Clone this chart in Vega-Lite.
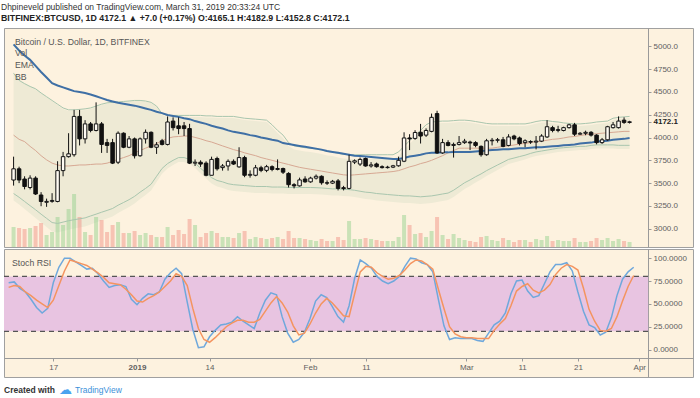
{
"$schema": "https://vega.github.io/schema/vega-lite/v6.json",
"background": "#ffffff",
"padding": {"left": 1, "top": 2, "right": 7, "bottom": 2},
"title": {
  "text": "Dhpineveld published on TradingView.com, March 31, 2019 20:33:24 UTC",
  "subtitle": "BITFINEX:BTCUSD, 1D  4172.1 ▲ +7.0 (+0.17%) O:4165.1 H:4182.9 L:4152.8 C:4172.1",
  "anchor": "start", "frame": "group", "dx": -3, "offset": 5,
  "font": "Liberation Sans", "fontSize": 8.5, "fontWeight": "normal", "color": "#333333",
  "subtitleFont": "Liberation Sans", "subtitleFontSize": 8.8, "subtitleFontWeight": "bold", "subtitleColor": "#222222", "subtitlePadding": 2.5
},
"spacing": 0,
"config": {
  "view": {"stroke": "#a0a0a0", "strokeWidth": 1, "fill": "#FDF2DF"},
  "axis": {"labelFont": "Liberation Sans", "labelFontSize": 8, "labelColor": "#606060", "domainColor": "#9a9a9a", "tickColor": "#9a9a9a", "tickSize": 3, "grid": false, "labelPadding": 2, "labelOverlap": false},
  "text": {"font": "Liberation Sans"}
},
"datasets": {"btc": [
{"d":"2018-12-09","o":3534,"h":3790,"l":3473,"c":3657,"v":20000,"ema":5020,"bu":4703,"bm":4026,"bl":3386,"k":73,"sd":68},
{"d":"2018-12-10","o":3657,"h":3680,"l":3500,"c":3534,"v":19000,"ema":4954,"bu":4626,"bm":3980,"bl":3345,"k":74,"sd":70},
{"d":"2018-12-11","o":3545,"h":3575,"l":3432,"c":3463,"v":18000,"ema":4898,"bu":4590,"bm":3955,"bl":3299,"k":67,"sd":69},
{"d":"2018-12-12","o":3452,"h":3586,"l":3432,"c":3555,"v":19000,"ema":4851,"bu":4559,"bm":3903,"bl":3253,"k":63,"sd":63},
{"d":"2018-12-13","o":3555,"h":3575,"l":3370,"c":3381,"v":21000,"ema":4785,"bu":4534,"bm":3857,"bl":3208,"k":55,"sd":59},
{"d":"2018-12-14","o":3370,"h":3401,"l":3247,"c":3299,"v":24000,"ema":4718,"bu":4488,"bm":3801,"bl":3160,"k":46,"sd":54},
{"d":"2018-12-15","o":3290,"h":3330,"l":3240,"c":3300,"v":12000,"ema":4657,"bu":4447,"bm":3755,"bl":3114,"k":40,"sd":50},
{"d":"2018-12-16","o":3300,"h":3390,"l":3285,"c":3310,"v":15000,"ema":4595,"bu":4406,"bm":3719,"bl":3068,"k":45,"sd":46},
{"d":"2018-12-17","o":3299,"h":3740,"l":3290,"c":3637,"v":30000,"ema":4570,"bu":4365,"bm":3699,"bl":3058,"k":73,"sd":54},
{"d":"2018-12-18","o":3637,"h":3842,"l":3575,"c":3790,"v":22000,"ema":4549,"bu":4324,"bm":3688,"bl":3073,"k":90,"sd":70},
{"d":"2018-12-19","o":3790,"h":4047,"l":3780,"c":3821,"v":38000,"ema":4529,"bu":4303,"bm":3688,"bl":3088,"k":100,"sd":86},
{"d":"2018-12-20","o":3811,"h":4303,"l":3790,"c":4231,"v":53000,"ema":4508,"bu":4303,"bm":3693,"bl":3099,"k":100,"sd":98},
{"d":"2018-12-21","o":4231,"h":4303,"l":3913,"c":3985,"v":30000,"ema":4498,"bu":4308,"bm":3699,"bl":3109,"k":96,"sd":96},
{"d":"2018-12-22","o":3985,"h":4190,"l":3934,"c":4149,"v":15000,"ema":4488,"bu":4314,"bm":3699,"bl":3119,"k":92,"sd":94},
{"d":"2018-12-23","o":4149,"h":4170,"l":4057,"c":4077,"v":12000,"ema":4472,"bu":4324,"bm":3704,"bl":3140,"k":88,"sd":92},
{"d":"2018-12-24","o":4077,"h":4385,"l":4067,"c":4149,"v":30000,"ema":4452,"bu":4344,"bm":3709,"bl":3160,"k":89,"sd":88},
{"d":"2018-12-25","o":4149,"h":4170,"l":3831,"c":3924,"v":27000,"ema":4431,"bu":4365,"bm":3709,"bl":3181,"k":83,"sd":84},
{"d":"2018-12-26","o":3944,"h":3985,"l":3831,"c":3913,"v":15000,"ema":4411,"bu":4380,"bm":3719,"bl":3201,"k":75,"sd":79},
{"d":"2018-12-27","o":3944,"h":3985,"l":3709,"c":3719,"v":22000,"ema":4395,"bu":4385,"bm":3739,"bl":3222,"k":68,"sd":73},
{"d":"2018-12-28","o":3729,"h":4067,"l":3709,"c":4047,"v":25000,"ema":4380,"bu":4390,"bm":3760,"bl":3258,"k":70,"sd":72},
{"d":"2018-12-29","o":4047,"h":4057,"l":3883,"c":3893,"v":14000,"ema":4370,"bu":4395,"bm":3780,"bl":3288,"k":71,"sd":71},
{"d":"2018-12-30","o":3893,"h":4016,"l":3883,"c":3985,"v":14000,"ema":4359,"bu":4400,"bm":3801,"bl":3319,"k":69,"sd":66},
{"d":"2018-12-31","o":3985,"h":4000,"l":3770,"c":3800,"v":16000,"ema":4349,"bu":4406,"bm":3832,"bl":3355,"k":55,"sd":60},
{"d":"2019-01-01","o":3800,"h":4000,"l":3790,"c":3985,"v":12000,"ema":4334,"bu":4406,"bm":3857,"bl":3401,"k":49,"sd":53},
{"d":"2019-01-02","o":3985,"h":4088,"l":3934,"c":4057,"v":14000,"ema":4318,"bu":4400,"bm":3883,"bl":3442,"k":56,"sd":52},
{"d":"2019-01-03","o":4057,"h":4067,"l":3883,"c":3893,"v":12000,"ema":4303,"bu":4385,"bm":3908,"bl":3488,"k":61,"sd":56},
{"d":"2019-01-04","o":3893,"h":3950,"l":3820,"c":3920,"v":10000,"ema":4283,"bu":4344,"bm":3934,"bl":3575,"k":60,"sd":59},
{"d":"2019-01-05","o":3964,"h":3985,"l":3913,"c":3924,"v":10000,"ema":4267,"bu":4262,"bm":3965,"bl":3661,"k":63,"sd":63},
{"d":"2019-01-06","o":3924,"h":4231,"l":3913,"c":4170,"v":20000,"ema":4247,"bu":4242,"bm":3990,"bl":3714,"k":77,"sd":69},
{"d":"2019-01-07","o":4180,"h":4221,"l":4077,"c":4108,"v":12000,"ema":4236,"bu":4242,"bm":4006,"bl":3750,"k":84,"sd":75},
{"d":"2019-01-08","o":4128,"h":4221,"l":4036,"c":4098,"v":17000,"ema":4226,"bu":4242,"bm":4011,"bl":3780,"k":89,"sd":83},
{"d":"2019-01-09","o":4128,"h":4170,"l":4016,"c":4098,"v":13000,"ema":4211,"bu":4242,"bm":4016,"bl":3780,"k":83,"sd":80},
{"d":"2019-01-10","o":4098,"h":4150,"l":3709,"c":3719,"v":28000,"ema":4201,"bu":4242,"bm":4016,"bl":3760,"k":52,"sd":70},
{"d":"2019-01-11","o":3719,"h":3760,"l":3688,"c":3729,"v":22000,"ema":4180,"bu":4242,"bm":4001,"bl":3719,"k":22,"sd":45},
{"d":"2019-01-12","o":3729,"h":3750,"l":3678,"c":3709,"v":10000,"ema":4165,"bu":4242,"bm":3985,"bl":3663,"k":2,"sd":23},
{"d":"2019-01-13","o":3719,"h":3739,"l":3575,"c":3586,"v":14000,"ema":4149,"bu":4237,"bm":3965,"bl":3611,"k":3,"sd":11},
{"d":"2019-01-14","o":3586,"h":3790,"l":3586,"c":3760,"v":16000,"ema":4129,"bu":4237,"bm":3950,"bl":3560,"k":14,"sd":8},
{"d":"2019-01-15","o":3770,"h":3790,"l":3637,"c":3657,"v":14000,"ema":4113,"bu":4231,"bm":3929,"bl":3529,"k":21,"sd":13},
{"d":"2019-01-16","o":3670,"h":3709,"l":3637,"c":3688,"v":10000,"ema":4098,"bu":4231,"bm":3908,"bl":3514,"k":27,"sd":19},
{"d":"2019-01-17","o":3688,"h":3760,"l":3637,"c":3739,"v":10000,"ema":4078,"bu":4231,"bm":3888,"bl":3493,"k":28,"sd":25},
{"d":"2019-01-18","o":3739,"h":3760,"l":3700,"c":3709,"v":9000,"ema":4062,"bu":4231,"bm":3867,"bl":3483,"k":30,"sd":29},
{"d":"2019-01-19","o":3678,"h":3893,"l":3668,"c":3780,"v":14000,"ema":4052,"bu":4221,"bm":3852,"bl":3478,"k":36,"sd":32},
{"d":"2019-01-20","o":3780,"h":3800,"l":3565,"c":3586,"v":16000,"ema":4042,"bu":4211,"bm":3832,"bl":3473,"k":31,"sd":32},
{"d":"2019-01-21","o":3586,"h":3640,"l":3560,"c":3596,"v":8000,"ema":4026,"bu":4206,"bm":3816,"bl":3468,"k":27,"sd":30},
{"d":"2019-01-22","o":3586,"h":3699,"l":3575,"c":3668,"v":10000,"ema":4016,"bu":4201,"bm":3801,"bl":3463,"k":23,"sd":30},
{"d":"2019-01-23","o":3668,"h":3690,"l":3620,"c":3640,"v":9000,"ema":4001,"bu":4196,"bm":3780,"bl":3463,"k":40,"sd":33},
{"d":"2019-01-24","o":3640,"h":3700,"l":3620,"c":3680,"v":8000,"ema":3990,"bu":4190,"bm":3765,"bl":3463,"k":54,"sd":42},
{"d":"2019-01-25","o":3680,"h":3695,"l":3630,"c":3650,"v":9000,"ema":3975,"bu":4139,"bm":3750,"bl":3457,"k":62,"sd":51},
{"d":"2019-01-26","o":3650,"h":3760,"l":3640,"c":3660,"v":10000,"ema":3965,"bu":4078,"bm":3734,"bl":3457,"k":60,"sd":58},
{"d":"2019-01-27","o":3660,"h":3670,"l":3600,"c":3620,"v":8000,"ema":3939,"bu":4026,"bm":3719,"bl":3457,"k":36,"sd":51},
{"d":"2019-01-28","o":3606,"h":3620,"l":3452,"c":3483,"v":16000,"ema":3929,"bu":3944,"bm":3704,"bl":3452,"k":18,"sd":41},
{"d":"2019-01-29","o":3483,"h":3500,"l":3442,"c":3470,"v":9000,"ema":3919,"bu":3908,"bm":3688,"bl":3452,"k":8,"sd":26},
{"d":"2019-01-30","o":3470,"h":3560,"l":3462,"c":3535,"v":9000,"ema":3908,"bu":3898,"bm":3673,"bl":3452,"k":11,"sd":16},
{"d":"2019-01-31","o":3545,"h":3575,"l":3504,"c":3514,"v":8000,"ema":3898,"bu":3888,"bm":3662,"bl":3452,"k":19,"sd":18},
{"d":"2019-02-01","o":3514,"h":3570,"l":3504,"c":3555,"v":7000,"ema":3888,"bu":3883,"bm":3652,"bl":3452,"k":34,"sd":28},
{"d":"2019-02-02","o":3555,"h":3595,"l":3540,"c":3575,"v":6000,"ema":3878,"bu":3872,"bm":3642,"bl":3450,"k":53,"sd":40},
{"d":"2019-02-03","o":3575,"h":3585,"l":3483,"c":3504,"v":8000,"ema":3867,"bu":3862,"bm":3632,"bl":3447,"k":60,"sd":50},
{"d":"2019-02-04","o":3504,"h":3530,"l":3480,"c":3500,"v":6000,"ema":3852,"bu":3847,"bm":3621,"bl":3442,"k":57,"sd":56},
{"d":"2019-02-05","o":3500,"h":3535,"l":3490,"c":3520,"v":6000,"ema":3842,"bu":3842,"bm":3611,"bl":3437,"k":47,"sd":51},
{"d":"2019-02-06","o":3524,"h":3545,"l":3420,"c":3442,"v":10000,"ema":3832,"bu":3826,"bm":3601,"bl":3437,"k":36,"sd":44},
{"d":"2019-02-07","o":3450,"h":3470,"l":3420,"c":3440,"v":7000,"ema":3821,"bu":3816,"bm":3591,"bl":3432,"k":30,"sd":37},
{"d":"2019-02-08","o":3442,"h":3811,"l":3432,"c":3739,"v":26000,"ema":3811,"bu":3811,"bm":3586,"bl":3429,"k":48,"sd":36},
{"d":"2019-02-09","o":3730,"h":3760,"l":3709,"c":3745,"v":8000,"ema":3801,"bu":3811,"bm":3591,"bl":3422,"k":78,"sd":61},
{"d":"2019-02-10","o":3709,"h":3780,"l":3688,"c":3760,"v":8000,"ema":3796,"bu":3811,"bm":3596,"bl":3411,"k":98,"sd":85},
{"d":"2019-02-11","o":3770,"h":3780,"l":3680,"c":3688,"v":9000,"ema":3791,"bu":3811,"bm":3601,"bl":3401,"k":94,"sd":91},
{"d":"2019-02-12","o":3688,"h":3730,"l":3670,"c":3700,"v":8000,"ema":3786,"bu":3811,"bm":3606,"bl":3396,"k":89,"sd":90},
{"d":"2019-02-13","o":3710,"h":3725,"l":3670,"c":3680,"v":7000,"ema":3780,"bu":3811,"bm":3611,"bl":3386,"k":80,"sd":84},
{"d":"2019-02-14","o":3680,"h":3695,"l":3660,"c":3670,"v":6000,"ema":3775,"bu":3811,"bm":3616,"bl":3381,"k":75,"sd":80},
{"d":"2019-02-15","o":3670,"h":3690,"l":3660,"c":3675,"v":6000,"ema":3770,"bu":3811,"bm":3621,"bl":3375,"k":72,"sd":77},
{"d":"2019-02-16","o":3675,"h":3700,"l":3665,"c":3690,"v":6000,"ema":3765,"bu":3811,"bm":3627,"bl":3370,"k":75,"sd":78},
{"d":"2019-02-17","o":3690,"h":3790,"l":3680,"c":3750,"v":10000,"ema":3765,"bu":3842,"bm":3637,"bl":3365,"k":80,"sd":81},
{"d":"2019-02-18","o":3740,"h":4057,"l":3730,"c":3995,"v":32000,"ema":3775,"bu":3903,"bm":3657,"bl":3360,"k":91,"sd":87},
{"d":"2019-02-19","o":3995,"h":4036,"l":3862,"c":3985,"v":22000,"ema":3791,"bu":3965,"bm":3678,"bl":3360,"k":100,"sd":94},
{"d":"2019-02-20","o":3990,"h":4080,"l":3975,"c":4055,"v":13000,"ema":3801,"bu":4021,"bm":3693,"bl":3355,"k":99,"sd":98},
{"d":"2019-02-21","o":4057,"h":4149,"l":3934,"c":4016,"v":14000,"ema":3811,"bu":4078,"bm":3714,"bl":3350,"k":95,"sd":97},
{"d":"2019-02-22","o":4026,"h":4100,"l":4006,"c":4077,"v":10000,"ema":3826,"bu":4139,"bm":3729,"bl":3355,"k":93,"sd":93},
{"d":"2019-02-23","o":4067,"h":4262,"l":4057,"c":4221,"v":16000,"ema":3832,"bu":4170,"bm":3750,"bl":3360,"k":85,"sd":88},
{"d":"2019-02-24","o":4262,"h":4293,"l":3821,"c":3831,"v":30000,"ema":3832,"bu":4175,"bm":3775,"bl":3370,"k":55,"sd":66},
{"d":"2019-02-25","o":3831,"h":3985,"l":3821,"c":3944,"v":12000,"ema":3837,"bu":4180,"bm":3801,"bl":3381,"k":26,"sd":45},
{"d":"2019-02-26","o":3944,"h":3970,"l":3903,"c":3913,"v":8000,"ema":3837,"bu":4180,"bm":3832,"bl":3391,"k":11,"sd":25},
{"d":"2019-02-27","o":3913,"h":3944,"l":3780,"c":3924,"v":13000,"ema":3842,"bu":4185,"bm":3857,"bl":3422,"k":13,"sd":17},
{"d":"2019-02-28","o":3924,"h":4016,"l":3913,"c":3944,"v":9000,"ema":3842,"bu":4190,"bm":3883,"bl":3463,"k":12,"sd":14},
{"d":"2019-03-01","o":3944,"h":3985,"l":3930,"c":3960,"v":7000,"ema":3842,"bu":4190,"bm":3883,"bl":3504,"k":12,"sd":13},
{"d":"2019-03-02","o":3950,"h":3965,"l":3862,"c":3940,"v":6000,"ema":3842,"bu":4185,"bm":3883,"bl":3535,"k":12,"sd":13},
{"d":"2019-03-03","o":3944,"h":3960,"l":3893,"c":3913,"v":5000,"ema":3847,"bu":4175,"bm":3883,"bl":3570,"k":10,"sd":12},
{"d":"2019-03-04","o":3903,"h":3913,"l":3790,"c":3811,"v":10000,"ema":3852,"bu":4165,"bm":3883,"bl":3601,"k":9,"sd":12},
{"d":"2019-03-05","o":3811,"h":3985,"l":3800,"c":3964,"v":11000,"ema":3857,"bu":4154,"bm":3883,"bl":3637,"k":18,"sd":12},
{"d":"2019-03-06","o":3964,"h":3995,"l":3913,"c":3970,"v":7000,"ema":3862,"bu":4149,"bm":3883,"bl":3668,"k":27,"sd":21},
{"d":"2019-03-07","o":3970,"h":3995,"l":3944,"c":3975,"v":6000,"ema":3867,"bu":4149,"bm":3893,"bl":3699,"k":31,"sd":28},
{"d":"2019-03-08","o":3975,"h":4006,"l":3893,"c":3903,"v":9000,"ema":3872,"bu":4149,"bm":3903,"bl":3729,"k":40,"sd":34},
{"d":"2019-03-09","o":3913,"h":4036,"l":3903,"c":4006,"v":7000,"ema":3872,"bu":4149,"bm":3908,"bl":3760,"k":61,"sd":48},
{"d":"2019-03-10","o":4016,"h":4030,"l":3970,"c":3985,"v":5000,"ema":3878,"bu":4149,"bm":3918,"bl":3775,"k":75,"sd":64},
{"d":"2019-03-11","o":3995,"h":4010,"l":3913,"c":3934,"v":7000,"ema":3883,"bu":4149,"bm":3929,"bl":3791,"k":76,"sd":69},
{"d":"2019-03-12","o":3944,"h":3980,"l":3893,"c":3964,"v":7000,"ema":3883,"bu":4149,"bm":3934,"bl":3806,"k":64,"sd":72},
{"d":"2019-03-13","o":3955,"h":3970,"l":3930,"c":3950,"v":5000,"ema":3888,"bu":4160,"bm":3944,"bl":3826,"k":57,"sd":65},
{"d":"2019-03-14","o":3950,"h":4016,"l":3870,"c":3960,"v":8000,"ema":3893,"bu":4175,"bm":3955,"bl":3842,"k":59,"sd":62},
{"d":"2019-03-15","o":3960,"h":4036,"l":3950,"c":4016,"v":7000,"ema":3893,"bu":4185,"bm":3960,"bl":3852,"k":72,"sd":65},
{"d":"2019-03-16","o":4006,"h":4190,"l":3995,"c":4118,"v":11000,"ema":3898,"bu":4185,"bm":3970,"bl":3862,"k":85,"sd":71},
{"d":"2019-03-17","o":4108,"h":4128,"l":4057,"c":4077,"v":6000,"ema":3903,"bu":4175,"bm":3980,"bl":3872,"k":93,"sd":82},
{"d":"2019-03-18","o":4077,"h":4128,"l":4057,"c":4087,"v":7000,"ema":3908,"bu":4170,"bm":3985,"bl":3883,"k":93,"sd":89},
{"d":"2019-03-19","o":4077,"h":4118,"l":4067,"c":4108,"v":6000,"ema":3914,"bu":4160,"bm":3995,"bl":3888,"k":95,"sd":93},
{"d":"2019-03-20","o":4108,"h":4150,"l":4098,"c":4139,"v":6000,"ema":3919,"bu":4154,"bm":4006,"bl":3893,"k":86,"sd":91},
{"d":"2019-03-21","o":4139,"h":4160,"l":4016,"c":4036,"v":9000,"ema":3924,"bu":4149,"bm":4011,"bl":3898,"k":63,"sd":87},
{"d":"2019-03-22","o":4036,"h":4060,"l":4030,"c":4046,"v":5000,"ema":3934,"bu":4149,"bm":4021,"bl":3903,"k":42,"sd":67},
{"d":"2019-03-23","o":4046,"h":4075,"l":4025,"c":4057,"v":5000,"ema":3939,"bu":4154,"bm":4031,"bl":3903,"k":27,"sd":44},
{"d":"2019-03-24","o":4057,"h":4070,"l":4010,"c":4026,"v":6000,"ema":3944,"bu":4160,"bm":4036,"bl":3914,"k":24,"sd":31},
{"d":"2019-03-25","o":4026,"h":4036,"l":3925,"c":3944,"v":9000,"ema":3955,"bu":4170,"bm":4042,"bl":3919,"k":16,"sd":21},
{"d":"2019-03-26","o":3944,"h":3995,"l":3930,"c":3975,"v":7000,"ema":3960,"bu":4175,"bm":4047,"bl":3919,"k":19,"sd":20},
{"d":"2019-03-27","o":3975,"h":4128,"l":3965,"c":4118,"v":9000,"ema":3965,"bu":4180,"bm":4052,"bl":3919,"k":35,"sd":23},
{"d":"2019-03-28","o":4108,"h":4170,"l":4098,"c":4139,"v":6000,"ema":3975,"bu":4211,"bm":4057,"bl":3919,"k":59,"sd":36},
{"d":"2019-03-29","o":4108,"h":4231,"l":4098,"c":4180,"v":8000,"ema":3980,"bu":4221,"bm":4062,"bl":3914,"k":77,"sd":53},
{"d":"2019-03-30","o":4190,"h":4221,"l":4149,"c":4165,"v":6000,"ema":3985,"bu":4226,"bm":4067,"bl":3914,"k":85,"sd":69},
{"d":"2019-03-31","o":4165.1,"h":4182.9,"l":4152.8,"c":4172.1,"v":5000,"ema":3995,"bu":4231,"bm":4067,"bl":3914,"k":90,"sd":81}
]},
"vconcat": [
{
  "width": 689, "height": 219,
  "data": {"name": "btc"},
  "resolve": {"scale": {"y": "independent"}, "axis": {"y": "independent"}},
  "layer": [
    {
      "mark": {"type": "area", "color": "#EEEAD5", "opacity": 1},
      "encoding": {
        "x": {"field": "d", "type": "temporal", "scale": {"type": "utc", "domain": [{"year":2018,"month":12,"date":8,"hours":4,"utc":true},{"year":2019,"month":4,"date":10,"hours":15,"utc":true}]}, "axis": null},
        "y": {"field": "bu", "type": "quantitative", "scale": {"domain": [2910, 5154]}, "axis": null},
        "y2": {"field": "bl"}
      }
    },
    {
      "mark": {"type": "bar", "size": 4, "opacity": 0.45},
      "encoding": {
        "x": {"field": "d", "type": "temporal", "axis": null},
        "y": {"field": "v", "type": "quantitative", "scale": {"domain": [0, 219000]}, "axis": null},
        "color": {"condition": {"test": "datum.c >= datum.o", "value": "#8ccf88"}, "value": "#f08a7e"}
      }
    },
    {
      "layer": [
        {
          "mark": {"type": "line", "color": "#A9C6AE", "strokeWidth": 1},
          "encoding": {
            "x": {"field": "d", "type": "temporal", "axis": null},
            "y": {"field": "bu", "type": "quantitative", "title": null, "scale": {"domain": [2910, 5154]}, "axis": {"orient": "right", "offset": -45, "title": null, "values": [3000, 3250, 3500, 3750, 4000, 4250, 4500, 4750, 5000, 4172.1], "tickCount": 30, "format": ".1f", "labelOverlap": false, "labelFlush": false, "labelFontWeight": {"condition": {"test": "datum.value == 4172.1", "value": "bold"}, "value": "normal"}, "labelColor": {"condition": {"test": "datum.value == 4172.1", "value": "#222222"}, "value": "#606060"}}}
          }
        },
        {
          "mark": {"type": "line", "color": "#A9C6AE", "strokeWidth": 1},
          "encoding": {
            "x": {"field": "d", "type": "temporal", "axis": null},
            "y": {"field": "bl", "type": "quantitative", "title": null}
          }
        },
        {
          "mark": {"type": "line", "color": "#D7A893", "strokeWidth": 1},
          "encoding": {
            "x": {"field": "d", "type": "temporal", "axis": null},
            "y": {"field": "bm", "type": "quantitative", "title": null}
          }
        },
        {
          "mark": {"type": "line", "color": "#3E6FA5", "strokeWidth": 2},
          "encoding": {
            "x": {"field": "d", "type": "temporal", "axis": null},
            "y": {"field": "ema", "type": "quantitative", "title": null}
          }
        },
        {
          "mark": {"type": "rule", "color": "#111111", "strokeWidth": 1},
          "encoding": {
            "x": {"field": "d", "type": "temporal", "axis": null},
            "y": {"field": "l", "type": "quantitative", "title": null},
            "y2": {"field": "h"}
          }
        },
        {
          "mark": {"type": "bar", "size": 3.5, "stroke": "#111111", "strokeWidth": 1},
          "encoding": {
            "x": {"field": "d", "type": "temporal", "axis": null},
            "y": {"field": "o", "type": "quantitative", "title": null},
            "y2": {"field": "c"},
            "fill": {"condition": {"test": "datum.c >= datum.o", "value": "#FFFBF3"}, "value": "#111111"}
          }
        },
        {
          "data": {"values": [{}]},
          "mark": {"type": "text", "text": ["Bitcoin / U.S. Dollar, 1D, BITFINEX", "Vol", "EMA", "BB"], "align": "left", "baseline": "top", "lineHeight": 11.9, "fontSize": 8.7, "color": "#555555", "dx": 6},
          "encoding": {
            "x": {"datum": {"year":2018,"month":12,"date":8,"hours":4,"utc":true}, "type": "temporal", "axis": null},
            "y": {"datum": 5095, "type": "quantitative"}
          }
        }
      ]
    }
  ]
},
{
  "width": 689, "height": 128,
  "data": {"name": "btc"},
  "layer": [
    {
      "data": {"values": [{}]},
      "mark": {"type": "rect", "color": "#E8C4E1"},
      "encoding": {
        "x": {"datum": {"year":2018,"month":12,"date":8,"hours":4,"utc":true}, "type": "temporal", "scale": {"type": "utc", "domain": [{"year":2018,"month":12,"date":8,"hours":4,"utc":true},{"year":2019,"month":4,"date":10,"hours":15,"utc":true}]}, "axis": {"orient": "bottom", "offset": -19, "title": null, "values": [{"year":2018,"month":12,"date":17,"utc":true},{"year":2019,"month":1,"date":1,"utc":true},{"year":2019,"month":1,"date":14,"utc":true},{"year":2019,"month":2,"date":1,"utc":true},{"year":2019,"month":2,"date":11,"utc":true},{"year":2019,"month":3,"date":1,"utc":true},{"year":2019,"month":3,"date":11,"utc":true},{"year":2019,"month":3,"date":21,"utc":true},{"year":2019,"month":4,"date":1,"utc":true}], "tickCount": 30, "labelExpr": "utcdate(datum.value) == 1 ? (utcmonth(datum.value) == 0 ? '2019' : utcFormat(datum.value, '%b')) : '' + utcdate(datum.value)", "labelFontWeight": {"condition": {"test": "utcmonth(datum.value) == 0 && utcdate(datum.value) == 1", "value": "bold"}, "value": "normal"}, "labelOverlap": false, "labelFlush": false}},
        "x2": {"datum": {"year":2019,"month":4,"date":2,"hours":14,"utc":true}},
        "y": {"datum": 80, "type": "quantitative", "scale": {"domain": [-24.7, 107.2]}, "axis": {"orient": "right", "offset": -45, "title": null, "values": [0, 25, 50, 75, 100], "tickCount": 30, "format": ".4f", "labelOverlap": false, "labelFlush": false}},
        "y2": {"datum": 20}
      }
    },
    {
      "data": {"values": [{"lvl": 80}, {"lvl": 20}]},
      "mark": {"type": "rule", "color": "#555555", "strokeDash": [5, 4], "strokeWidth": 1.2},
      "encoding": {
        "x": {"datum": {"year":2018,"month":12,"date":8,"hours":4,"utc":true}, "type": "temporal"},
        "x2": {"datum": {"year":2019,"month":4,"date":2,"hours":14,"utc":true}},
        "y": {"field": "lvl", "type": "quantitative", "title": null}
      }
    },
    {
      "mark": {"type": "line", "color": "#6FA8DC", "strokeWidth": 1.5},
      "encoding": {
        "x": {"field": "d", "type": "temporal", "title": null},
        "y": {"field": "k", "type": "quantitative", "title": null}
      }
    },
    {
      "mark": {"type": "line", "color": "#F4945F", "strokeWidth": 1.5},
      "encoding": {
        "x": {"field": "d", "type": "temporal", "title": null},
        "y": {"field": "sd", "type": "quantitative", "title": null}
      }
    },
    {
      "data": {"values": [{}]},
      "mark": {"type": "text", "text": "Stoch RSI", "align": "left", "baseline": "middle", "fontSize": 8.7, "color": "#555555", "dx": 8},
      "encoding": {
        "x": {"datum": {"year":2018,"month":12,"date":8,"hours":4,"utc":true}, "type": "temporal"},
        "y": {"datum": 95, "type": "quantitative"}
      }
    },
    {
      "data": {"values": [{}]},
      "mark": {"type": "text", "text": "Created with", "align": "left", "baseline": "middle", "fontSize": 8.5, "fontWeight": "bold", "color": "#333333", "dx": 0},
      "encoding": {
        "x": {"datum": {"year":2018,"month":12,"date":8,"hours":4,"utc":true}, "type": "temporal"},
        "y": {"datum": -44, "type": "quantitative"}
      }
    },
    {
      "data": {"values": [{}]},
      "mark": {"type": "text", "text": "☁", "align": "left", "baseline": "middle", "fontSize": 13, "font": "DejaVu Sans", "color": "#4aa3ef", "dx": 55},
      "encoding": {
        "x": {"datum": {"year":2018,"month":12,"date":8,"hours":4,"utc":true}, "type": "temporal"},
        "y": {"datum": -44, "type": "quantitative"}
      }
    },
    {
      "data": {"values": [{}]},
      "mark": {"type": "text", "text": "TradingView", "align": "left", "baseline": "middle", "fontSize": 8.5, "color": "#3b8fd9", "dx": 71},
      "encoding": {
        "x": {"datum": {"year":2018,"month":12,"date":8,"hours":4,"utc":true}, "type": "temporal"},
        "y": {"datum": -44, "type": "quantitative"}
      }
    }
  ]
}
]
}
